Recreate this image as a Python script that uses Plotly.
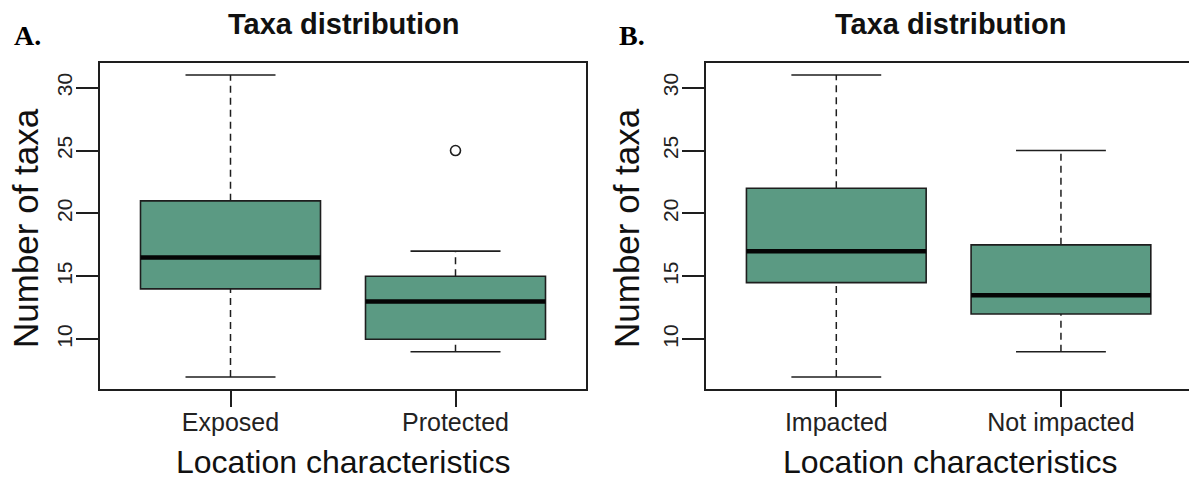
import plotly.graph_objects as go

# Summary statistics (R boxplot style): lower whisker, Q1, median, Q3, upper whisker
cats_a = ["Exposed", "Protected"]
low_a = [7, 9]
q1_a = [14, 10]
med_a = [16.5, 13]
q3_a = [21, 15]
high_a = [31, 17]
out_a = [[], [25]]

cats_b = ["Impacted", "Not impacted"]
low_b = [7, 9]
q1_b = [14.5, 12]
med_b = [17, 13.5]
q3_b = [22, 17.5]
high_b = [31, 25]
out_b = [[], []]

y_ticks = [10, 15, 20, 25, 30]
panel_title = "Taxa distribution"
x_title = "Location characteristics"
y_title = "Number of taxa"

W, H = 1189, 482
FILL = "#5b9a83"
INK = "#1e1e1e"
SANS = "Liberation Sans, Arial, sans-serif"
SERIF = "Liberation Serif, Times New Roman, serif"


def px(x):
    return x / W


def py(y):
    return 1 - y / H


fig = go.Figure()
shapes = []

panels = [
    dict(xa="x", ya="y", cats=cats_a, low=low_a, q1=q1_a, med=med_a, q3=q3_a, high=high_a, out=out_a),
    dict(xa="x2", ya="y2", cats=cats_b, low=low_b, q1=q1_b, med=med_b, q3=q3_b, high=high_b, out=out_b),
]

BOX_HALF = 0.4
CAP_HALF = 0.2

for p in panels:
    ox, oy = [], []
    for i in range(len(p["cats"])):
        x = i + 1
        common = dict(xref=p["xa"], yref=p["ya"])
        # dashed whiskers
        shapes.append(dict(type="line", x0=x, x1=x, y0=p["q3"][i], y1=p["high"][i],
                           line=dict(color=INK, width=1.5, dash="7px,5px"), **common))
        shapes.append(dict(type="line", x0=x, x1=x, y0=p["low"][i], y1=p["q1"][i],
                           line=dict(color=INK, width=1.5, dash="7px,5px"), **common))
        # staples
        for v in (p["high"][i], p["low"][i]):
            shapes.append(dict(type="line", x0=x - CAP_HALF, x1=x + CAP_HALF, y0=v, y1=v,
                               line=dict(color=INK, width=1.6), **common))
        # box
        shapes.append(dict(type="rect", x0=x - BOX_HALF, x1=x + BOX_HALF,
                           y0=p["q1"][i], y1=p["q3"][i], fillcolor=FILL,
                           line=dict(color=INK, width=1.6), **common))
        # median
        shapes.append(dict(type="line", x0=x - BOX_HALF, x1=x + BOX_HALF,
                           y0=p["med"][i], y1=p["med"][i],
                           line=dict(color="#050505", width=4.5), **common))
        for v in p["out"][i]:
            ox.append(x)
            oy.append(v)
    fig.add_trace(go.Scatter(
        x=ox, y=oy, mode="markers", xaxis=p["xa"], yaxis=p["ya"],
        marker=dict(symbol="circle-open", size=10, color=INK, line=dict(width=1.6)),
        showlegend=False, hoverinfo="skip",
    ))

y_dom = [(H - 389) / H, (H - 63) / H]


def xaxis_cfg(domain, rng, cats, anchor):
    return dict(
        domain=domain, range=rng, anchor=anchor,
        tickmode="array", tickvals=list(range(1, len(cats) + 1)), ticktext=cats,
        ticks="outside", ticklen=16, tickwidth=1.6, tickcolor=INK,
        ticklabelstandoff=-6,
        showline=True, linecolor=INK, linewidth=2, mirror=True,
        showgrid=False, zeroline=False, fixedrange=True,
        tickfont=dict(family=SANS, size=25, color="#222"),
    )


def yaxis_cfg(anchor, mirror):
    return dict(
        domain=y_dom, range=[6.04, 31.96], anchor=anchor,
        tickmode="array", tickvals=y_ticks, tickangle=-90,
        ticks="outside", ticklen=22, tickwidth=1.6, tickcolor=INK,
        ticklabelstandoff=-4,
        showline=True, linecolor=INK, linewidth=2, mirror=mirror,
        showgrid=False, zeroline=False, fixedrange=True,
        tickfont=dict(family=SANS, size=21, color="#222"),
    )


annotations = []
for label, cx, lx, yx in (("A.", 343, 27, 25), ("B.", 950, 632, 626)):
    annotations.append(dict(text=f"<b>{panel_title}</b>", x=px(cx), y=py(24), xref="paper", yref="paper",
                            xanchor="center", yanchor="middle", showarrow=False,
                            font=dict(family=SANS, size=29, color="#111")))
    annotations.append(dict(text=f"<b>{label}</b>", x=px(lx), y=py(36), xref="paper", yref="paper",
                            xanchor="center", yanchor="middle", showarrow=False,
                            font=dict(family=SERIF, size=28, color="#000")))
    annotations.append(dict(text=x_title, x=px(cx), y=py(462), xref="paper", yref="paper",
                            xanchor="center", yanchor="middle", showarrow=False,
                            font=dict(family=SANS, size=32, color="#111")))
    annotations.append(dict(text=y_title, x=px(yx), y=py(228), xref="paper", yref="paper",
                            xanchor="center", yanchor="middle", showarrow=False, textangle=-90,
                            font=dict(family=SANS, size=35, color="#111")))

fig.update_layout(
    width=W, height=H, autosize=False,
    margin=dict(l=0, r=0, t=0, b=0, pad=0),
    paper_bgcolor="white", plot_bgcolor="white",
    xaxis=xaxis_cfg([100 / W, 586 / W], [0.42, 2.58], cats_a, "y"),
    yaxis=yaxis_cfg("x", True),
    xaxis2=xaxis_cfg([706 / W, 1.0], [0.42, 2.57], cats_b, "y2"),
    yaxis2=yaxis_cfg("x2", False),
    shapes=shapes,
    annotations=annotations,
    showlegend=False,
)

fig.write_html("out.html")
